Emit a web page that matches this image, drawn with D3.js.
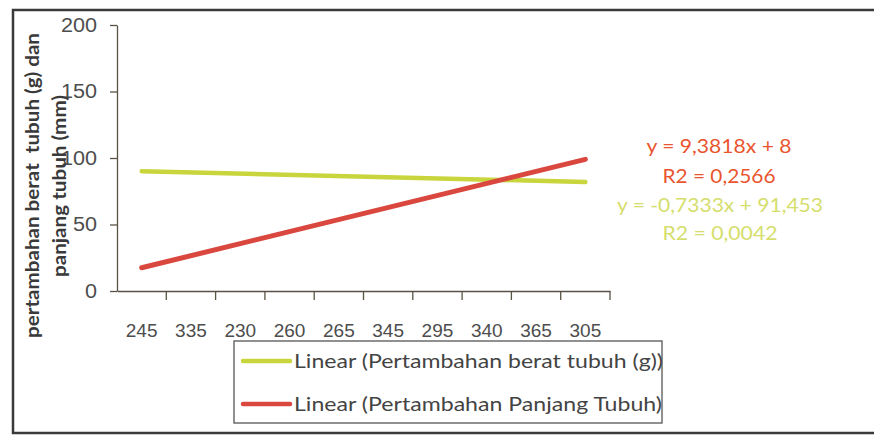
<!DOCTYPE html>
<html>
<head>
<meta charset="utf-8">
<script src="https://cdn.jsdelivr.net/npm/d3@7"></script>
<style>
  body { margin: 0; background: #fff; }
  svg { font-family: Lato, "Open Sans", sans-serif; }
</style>
</head>
<body>
<div class="chart"></div>
<script>
// x categories as printed under the axis
var categories = ['245', '335', '230', '260', '265', '345', '295', '340', '365', '305'];
var yTicks = [0, 50, 100, 150, 200];

// trendlines run from first to last category
var trendCats = ['245', '305'];
var beratTrend = [90, 82];
var panjangTrend = [17.5, 99];

var beratLabel = 'Linear (Pertambahan berat tubuh (g))';
var panjangLabel = 'Linear (Pertambahan Panjang Tubuh)';
var beratEq = ['y = -0,7333x + 91,453', 'R2 = 0,0042'];
var panjangEq = ['y = 9,3818x + 8', 'R2 = 0,2566'];

var W = 874, H = 440;
var red = '#d9473f', green = '#c8d53c';

var svg = d3.select('.chart')
    .append('svg')
    .attr('width', W)
    .attr('height', H)

// scanned frame (right edge runs off the page)
svg.append('rect')
    .attr('x', 13).attr('y', 10)
    .attr('width', 900).attr('height', 423)
    .attr('fill', 'none')
    .attr('stroke', '#3a3a3a')
    .attr('stroke-width', 2.5)

var x = d3.scaleBand().domain(categories).range([117, 610]);
var y = d3.scaleLinear().domain([0, 200]).range([291, 25]);

// y axis
var yAxis = svg.append('g')
    .attr('transform', 'translate(117,0)')
    .call(d3.axisLeft(y).tickValues(yTicks).tickSize(7).tickSizeOuter(0).tickPadding(13))
yAxis.select('.domain').attr('stroke', '#5a5245').attr('stroke-width', 1.3)
yAxis.selectAll('.tick line').attr('stroke', '#5a5245').attr('stroke-width', 1.3)
yAxis.selectAll('text')
    .attr('fill', '#4d4d4d')
    .attr('textLength', function (d) { return String(d).length * 12; })
    .attr('lengthAdjust', 'spacingAndGlyphs')
    .style('font-size', '20px')

// x axis: labels at band centers, ticks at band edges
var xAxis = svg.append('g')
    .attr('transform', 'translate(0,291)')
    .call(d3.axisBottom(x).tickSize(0).tickPadding(33))
xAxis.select('.domain').attr('stroke', '#5a5245').attr('stroke-width', 1.3)
xAxis.selectAll('text')
    .attr('fill', '#4d4d4d')
    .style('font-size', '19px')

var edges = categories.map(function (c) { return x(c); }).concat([x.range()[1]]);
svg.selectAll('.xtick')
    .data(edges.slice(1))
    .enter()
    .append('line')
    .attr('class', 'xtick')
    .attr('x1', function (d) { return d; })
    .attr('x2', function (d) { return d; })
    .attr('y1', 291)
    .attr('y2', 300)
    .attr('stroke', '#5a5245')
    .attr('stroke-width', 1.3)

// trendlines
var line = d3.line()
    .x(function (d) { return x(d.c) + x.bandwidth() / 2; })
    .y(function (d) { return y(d.v); })

function pts(vals) {
  return vals.map(function (v, i) { return {c: trendCats[i], v: v}; });
}

svg.append('path')
    .attr('d', line(pts(beratTrend)))
    .attr('fill', 'none')
    .attr('stroke', green)
    .attr('stroke-width', 4.5)
    .attr('stroke-linecap', 'round')

svg.append('path')
    .attr('d', line(pts(panjangTrend)))
    .attr('fill', 'none')
    .attr('stroke', red)
    .attr('stroke-width', 5)
    .attr('stroke-linecap', 'round')

// trendline equations
var eqWidthR = [145, 113], eqWidthG = [206, 115];
svg.selectAll('.eqr')
    .data(panjangEq)
    .enter()
    .append('text')
    .attr('x', function (d, i) { return 719 - eqWidthR[i] / 2; })
    .attr('y', function (d, i) { return 153 + i * 30; })
    .attr('textLength', function (d, i) { return eqWidthR[i]; })
    .attr('lengthAdjust', 'spacingAndGlyphs')
    .attr('fill', '#e9552f')
    .style('font-size', '19px')
    .text(function (d) { return d; })

svg.selectAll('.eqg')
    .data(beratEq)
    .enter()
    .append('text')
    .attr('x', function (d, i) { return 720 - eqWidthG[i] / 2; })
    .attr('y', function (d, i) { return 212 + i * 28; })
    .attr('textLength', function (d, i) { return eqWidthG[i]; })
    .attr('lengthAdjust', 'spacingAndGlyphs')
    .attr('fill', '#d5de6c')
    .style('font-size', '19px')
    .text(function (d) { return d; })

// y axis title
var yt = svg.append('text')
    .attr('transform', 'translate(33,186) rotate(-90)')
    .attr('fill', '#3a3a3a')
    .style('font-size', '18px')
    .style('font-weight', 'bold')
yt.append('tspan').attr('x', -152).attr('dy', '0.35em')
    .attr('textLength', 305).attr('lengthAdjust', 'spacingAndGlyphs')
    .text('pertambahan berat\u00a0 tubuh (g) dan')
yt.append('tspan').attr('x', -91).attr('dy', 27)
    .attr('textLength', 182).attr('lengthAdjust', 'spacingAndGlyphs')
    .text('panjang tubuh (mm)')

// legend
var lg = svg.append('g')
lg.append('rect')
    .attr('x', 234).attr('y', 341)
    .attr('width', 428).attr('height', 82)
    .attr('fill', '#fff')
    .attr('stroke', '#555')
    .attr('stroke-width', 1.3)

var legendItems = [
  {name: beratLabel, color: green, w: 369},
  {name: panjangLabel, color: red, w: 368}
];
var li = lg.selectAll('.li')
    .data(legendItems)
    .enter()
    .append('g')
    .attr('transform', function (d, i) { return 'translate(0,' + (361 + i * 43) + ')'; })
li.append('line')
    .attr('x1', 243).attr('x2', 290)
    .attr('stroke', function (d) { return d.color; })
    .attr('stroke-width', 4.5)
    .attr('stroke-linecap', 'round')
li.append('text')
    .attr('x', 294)
    .attr('y', 7)
    .attr('fill', '#444')
    .attr('textLength', function (d) { return d.w; })
    .attr('lengthAdjust', 'spacingAndGlyphs')
    .style('font-size', '20px')
    .text(function (d) { return d.name; })
</script>
</body>
</html>
